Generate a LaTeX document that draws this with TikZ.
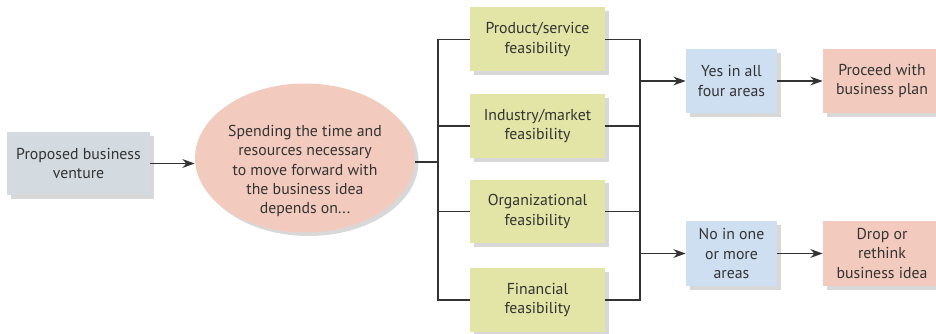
\documentclass[tikz,border=0pt]{standalone}
\usepackage{fontspec}
\setmainfont{PT Sans}
\usepackage{tikz}
\usetikzlibrary{arrows.meta,shadows,shapes.geometric}
\definecolor{ventgray}{HTML}{D3DAE0}
\definecolor{ideapink}{HTML}{F2CBBE}
\definecolor{feasgreen}{HTML}{E2E5A6}
\definecolor{resblue}{HTML}{CEDFF1}
\definecolor{linegray}{HTML}{333333}
\tikzset{
	boxtext/.style={inner sep=0pt, align=center, text=linegray,
		font=\fontsize{9}{11}\selectfont},
	box/.style={boxtext, draw=none,
		drop shadow={shadow xshift=2pt, shadow yshift=-2pt, fill=black!22, opacity=0.7}},
	feas/.style={box, fill=feasgreen, minimum width=2.7cm, minimum height=1.28cm},
	conn/.style={draw=linegray, line width=0.7pt},
	arr/.style={conn, -{Stealth[length=7pt,width=5pt]}}
}

\begin{document}
\begin{tikzpicture}[x=0.02cm, y=0.02cm]
		%%%%% START %%%%%
		\useasboundingbox (0, 0) rectangle (936, 334);
		
		\node[box, fill=ventgray, minimum width=2.86cm, minimum height=1.26cm] (venture) at (78.5, 170.5) {Proposed business\\venture};
		\node[box, ellipse, fill=ideapink, minimum width=4.4cm, minimum height=2.98cm] (idea) at (305, 176) {};
		\node[boxtext] (ideatext) at (305, 163) {Spending the time and\\resources necessary\\to move forward with\\the business idea\\depends on...};
		
		\node[feas] (prod) at (537.5, 294.5) {Product/service\\feasibility};
		\node[feas] (ind) at (537.5, 208) {Industry/market\\feasibility};
		\node[feas] (org) at (537.5, 122.5) {Organizational\\feasibility};
		\node[feas] (fin) at (537.5, 34) {Financial\\feasibility};
		
		\node[box, fill=resblue, minimum width=1.82cm, minimum height=1.28cm] (yes) at (731.5, 253) {Yes in all\\four areas};
		\node[box, fill=resblue, minimum width=1.82cm, minimum height=1.3cm] (no) at (731.5, 80.5) {No in one\\or more\\areas};
		
		\node[box, fill=ideapink, minimum width=2.36cm, minimum height=1.28cm] (go) at (882, 253) {Proceed with\\business plan};
		\node[box, fill=ideapink, minimum width=2.36cm, minimum height=1.3cm] (drop) at (882, 80.5) {Drop or\\rethink\\business idea};
		
		\coordinate (busL) at (438, 172);
		\coordinate (joinA) at (640, 253);
		\coordinate (joinB) at (640, 80.5);
		
		\draw[arr] (venture.east) -- (venture.east -| idea.west);
		\draw[conn] (busL -| idea.east) -- (busL);
		\foreach \n in {prod,ind,org,fin}
			\draw[conn] (\n.west) -| (busL);
		
		\draw[conn] (prod.east) -| (joinA) -- (joinB) |- (fin.east);
		\draw[conn] (ind.east) -- (ind.east -| joinA);
		\draw[conn] (org.east) -- (org.east -| joinA);
		
		\draw[arr] (joinA) -- (yes);
		\draw[arr] (joinB) -- (no);
		\draw[arr] (yes) -- (go);
		\draw[arr] (no) -- (drop);
		%%%%% END %%%%%
	\end{tikzpicture}
\end{document}
